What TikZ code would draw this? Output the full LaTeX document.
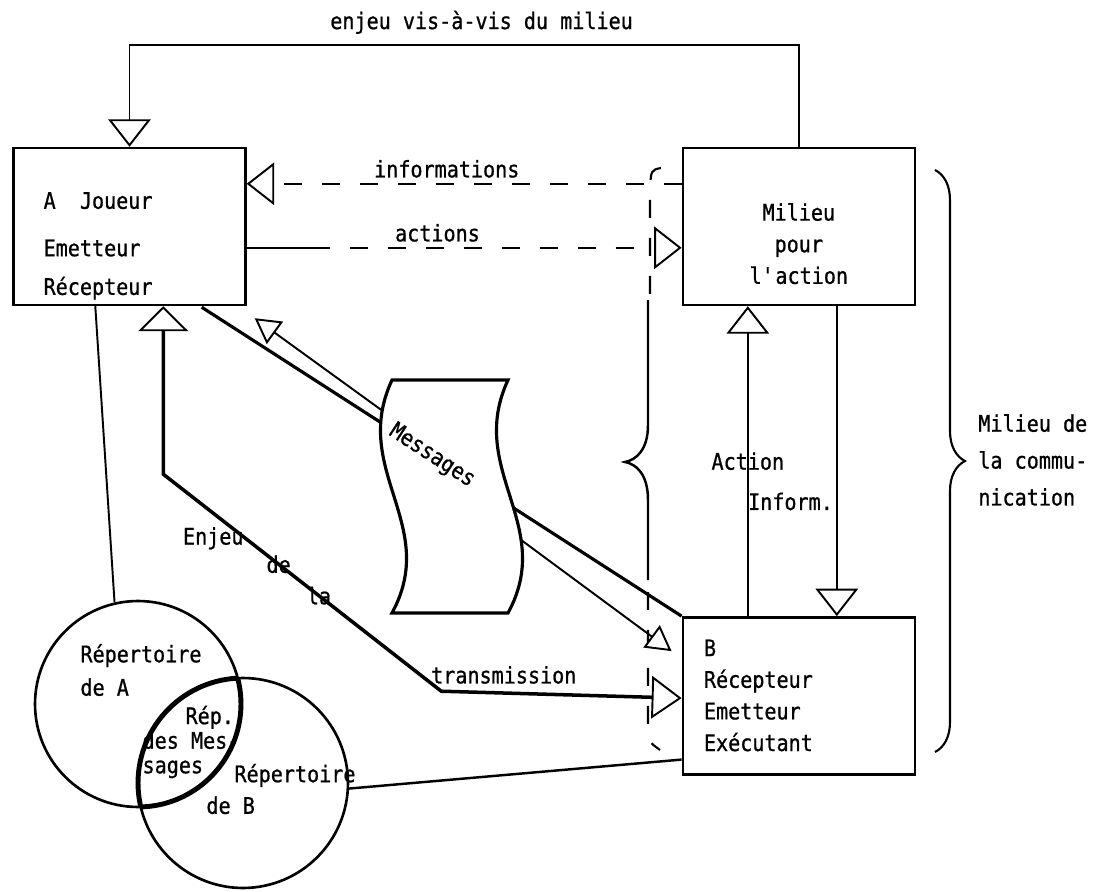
\documentclass[tikz,border=0pt]{standalone}
\usepackage{fontspec}
\newfontfamily\dotfont{DejaVu Sans Mono}[FakeStretch=0.88,FakeBold=0.8]
\usetikzlibrary{arrows.meta,positioning,decorations.pathreplacing}

\begin{document}
\begin{tikzpicture}[x=0.02cm, y=-0.02cm,
      box/.style={draw, line width=1.4pt, minimum width=4.64cm, minimum height=3.14cm, inner sep=0pt},
      txt/.style={font=\dotfont\fontsize{13}{18}\selectfont, inner sep=0pt, align=left},
      circ/.style={draw, circle, line width=1.5pt, inner sep=0pt},
      ln/.style={line width=1.1pt},
      dsh/.style={line width=1.2pt, dash pattern=on 3.6mm off 4mm},
      tri/.style={-{Triangle[fill=white, length=5.5mm, width=8.5mm, line width=1.1pt]}},
      tris/.style={-{Triangle[fill=white, length=5mm, width=5.5mm, line width=1.1pt]}},
      tritwo/.style={{Triangle[fill=white, length=5mm, width=10mm, line width=1.1pt]}-{Triangle[fill=white, length=6mm, width=8.5mm, line width=1.1pt]}}]
    \useasboundingbox (0,0) rectangle (1093,892);
    \node[box] (A) at (129.5,226.5) {};
    \node[box, right=8.7cm of A] (M) {};
    \node[box, below=6.2cm of M] (B) {};
    \node[txt, below right=0.9cm and 0.62cm of A.north west] (Atx) {A~~Joueur\\[9pt]Emetteur\\[4pt]Récepteur};
    \node[txt, align=center, below=1.12cm of M.north] (Mtx) {Milieu\\pour\\l\textquotesingle action};
    \node[txt, below right=0.46cm and 0.44cm of B.north west] (Btx) {B\\Récepteur\\Emetteur\\Exécutant};
    \node[circ, minimum size=4.12cm] (repA) at (138,704) {};
    \node[circ, minimum size=4.2cm] (repB) at (243,783) {};
    \begin{scope}
      \clip (repB.center) circle (2.1cm);
      \draw[line width=2.8pt] (repA.center) circle (2.06cm);
    \end{scope}
    \begin{scope}
      \clip (repA.center) circle (2.06cm);
      \draw[line width=2.8pt] (repB.center) circle (2.1cm);
    \end{scope}
    \node[txt] (repAtx) at ([shift={(3,-34)}]repA.center) {Répertoire\\[1pt]de A};
    \node[txt] (lens) at (191,742) {\hspace*{8.6mm}Rép.\\[-4pt]des Mes-\\[-4pt]sages};
    \node[txt] (repBtx) at ([shift={(38,6)}]repB.center) {\hspace*{5.6mm}Répertoire\\de B};
    \node[txt, anchor=west] (milcom) at (978,460) {Milieu de\\[3pt]la commu-\\[3pt]nication};
    \coordinate (a0) at ([shift={(-51,0)}]B.north);
    \coordinate (d0) at ([shift={(38,0)}]M.south);
    \draw[dsh] (661,168) .. controls (651,170) .. (650,190) -- (650,298);
    \draw[line width=1.4pt] (648,300) -- (648,425) .. controls (648,450) and (636,460) .. (625,462)
      .. controls (636,464) and (648,474) .. (648,500) -- (648,580);
    \draw[dsh] (648,592) -- (648,728) .. controls (649,742) .. (660,750);
    \draw[line width=1.2pt, decorate, decoration={brace, amplitude=0.6cm}] (935,170) -- (935,752);
    \draw[ln, tri] (M.north) -- ++(0,-102) -| node[txt, pos=.237, above=2mm] (enjmil) {enjeu vis-à-vis du milieu} (A.north);
    \draw[dsh, tri] ([shift={(0,37)}]M.north west) -- node[txt, pos=.54, above=1mm] (inf) {informations} ([shift={(0,37)}]A.north east);
    \draw[ln] ([shift={(0,101)}]A.north east) -- ([shift={(65,101)}]A.north east);
    \draw[dsh, tri] ([shift={(65,101)}]A.north east) -- node[txt, pos=.34, above=1mm] (act) {actions} ([shift={(0,101)}]M.north west);
    \draw[ln, tri] (a0) -- node[txt] (actn) {Action} (a0 |- M.south);
    \draw[ln, tri] (d0) -- node[txt, pos=.63, left=0.6mm] (infm) {Inform.} (d0 |- B.north);
    \draw[line width=1.8pt] ([shift={(-45,1)}]A.south east) -- (B.north west);
    \draw[ln, tris] (420,438) -- ([shift={(8,12)}]A.south east);
    \draw[ln, tris] (490,517) -- ([shift={(-10,35)}]B.north west);
    \draw[line width=1.8pt, fill=white] (392,380) -- (508,380) .. controls (466,470) and (556,525) .. (508,613)
      -- (392,613) .. controls (440,525) and (350,470) .. (392,380) -- cycle;
    \node[txt, rotate=-33] (msg) at (432,456) {Messages};
    \draw[line width=2pt, tritwo] ([shift={(151,0)}]A.south west) -- ++(0,168)
      -- node[txt, pos=.295, anchor=east] (enj) {Enjeu} node[txt, pos=.415] (enjde) {de} node[txt, pos=.56] (enjla) {la} ++(278,217)
      -- node[txt, pos=.26, above=1.5mm] (transm) {transmission} ([shift={(0,82)}]B.north west);
    \draw[ln] ([shift={(83,0)}]A.south west) -- (repA.103);
    \draw[line width=1.4pt] ([shift={(0,-16)}]B.south west) -- (repB.-3);
  \end{tikzpicture}
\end{document}
